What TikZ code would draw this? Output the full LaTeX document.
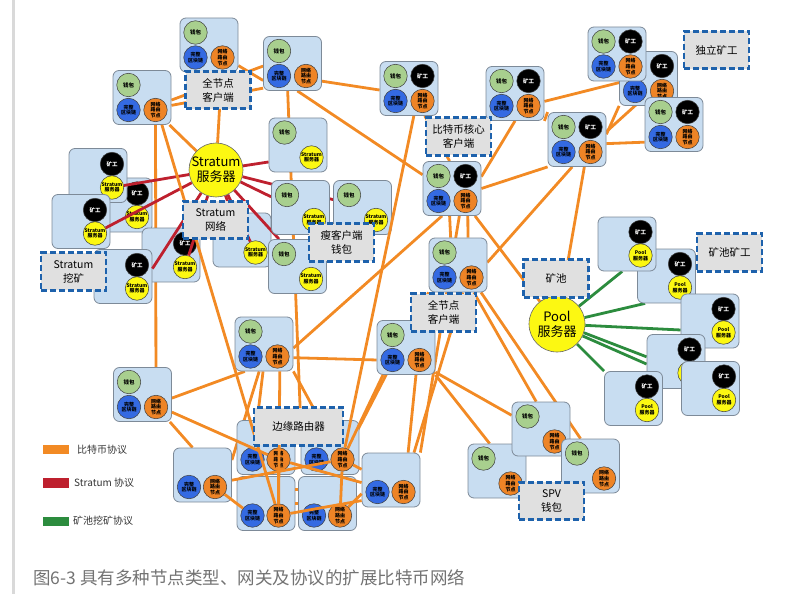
\documentclass[tikz,border=0pt]{standalone}
\usepackage{fontspec}
\setmainfont{Noto Sans CJK SC}

\definecolor{caixaazul}{RGB}{200,221,241}
\definecolor{bordacaixa}{RGB}{125,138,152}
\definecolor{verdec}{RGB}{168,207,142}
\definecolor{azulb}{RGB}{52,106,226}
\definecolor{laranja}{RGB}{238,132,38}
\definecolor{amarelo}{RGB}{252,248,18}
\definecolor{linhalar}{RGB}{242,138,36}
\definecolor{linhaverm}{RGB}{190,32,46}
\definecolor{linhaverde}{RGB}{44,140,62}
\definecolor{tracejado}{RGB}{30,98,172}
\definecolor{cinzarot}{RGB}{224,224,224}

\pgfdeclarelayer{linhas}
\pgfdeclarelayer{tras}
\pgfdeclarelayer{stratum}
\pgfsetlayers{linhas,tras,stratum,main}

\tikzset{
  caixa/.style={draw=bordacaixa, fill=caixaazul, rounded corners=6pt, line width=0.8pt,
    minimum width=58pt, minimum height=54pt, inner sep=0pt},
  bola/.style={circle, draw=black!75, line width=0.5pt, minimum size=23.5pt, inner sep=0pt,
    align=center, font=\fontsize{5}{5.6}\selectfont\bfseries},
  miuda/.style={font=\fontsize{5.5}{6}\selectfont\bfseries},
  servidor/.style={circle, draw=black!60, line width=0.6pt, fill=amarelo, minimum size=54pt, inner sep=0pt},
  rotulo/.style={draw=tracejado, fill=cinzarot, line width=2.6pt, dash pattern=on 6pt off 3pt,
    minimum width=65pt, minimum height=37.5pt, inner sep=0pt, align=center,
    font=\fontsize{10.5}{14}\selectfont},
  btc/.style={draw=linhalar, line width=2.8pt},
  strat/.style={draw=linhaverm, line width=2.8pt},
  pool/.style={draw=linhaverde, line width=2.8pt},
  barra/.style={minimum width=26pt, minimum height=9.5pt, inner sep=0pt},
  legtxt/.style={anchor=west, inner sep=0pt, text=black!80, font=\fontsize{10}{12}\selectfont}
}

% no completo: carteira, blockchain, roteamento
\newcommand{\noCheio}[3]{%
  \node[caixa] (#1) at (#2,#3) {};
  \node[bola, fill=verdec, miuda] (#1-c) at (#2-13.5,#3-12.5) {钱包};
  \node[bola, fill=azulb] (#1-b) at (#2-13.5,#3+12.5) {完整\\区块链};
  \node[bola, fill=laranja] (#1-r) at (#2+13.5,#3+12.5) {网络\\路由\\节点};
}
% no completo com mineiro
\newcommand{\noMinerador}[3]{%
  \noCheio{#1}{#2}{#3}
  \node[bola, fill=black, text=white, miuda] (#1-m) at (#2+13.5,#3-12.5) {矿工};
}
% carteira leve (stratum)
\newcommand{\noLeve}[3]{%
  \node[caixa] (#1) at (#2,#3) {};
  \node[bola, fill=verdec, miuda] (#1-c) at (#2-13.5,#3-12.5) {钱包};
  \node[bola, fill=amarelo] (#1-s) at (#2+13.5,#3+12.5) {Stratum\\服务器};
}
% mineiro stratum
\newcommand{\noMineiro}[3]{%
  \node[caixa] (#1) at (#2,#3) {};
  \node[bola, fill=black, text=white, miuda] (#1-m) at (#2+14,#3-11.5) {矿工};
  \node[bola, fill=amarelo] (#1-s) at (#2+14,#3+12) {Stratum\\服务器};
}
% mineiro do pool
\newcommand{\noPool}[3]{%
  \node[caixa] (#1) at (#2,#3) {};
  \node[bola, fill=black, text=white, miuda] (#1-m) at (#2+13.5,#3-12) {矿工};
  \node[bola, fill=amarelo] (#1-s) at (#2+13.5,#3+11.5) {Pool\\服务器};
}
% carteira spv
\newcommand{\noSpv}[3]{%
  \node[caixa] (#1) at (#2,#3) {};
  \node[bola, fill=verdec, miuda] (#1-c) at (#2-13.5,#3-12.5) {钱包};
  \node[bola, fill=laranja] (#1-r) at (#2+13.5,#3+12.5) {网络\\路由\\节点};
}
% roteador de borda
\newcommand{\noBorda}[3]{%
  \node[caixa] (#1) at (#2,#3) {};
  \node[bola, fill=azulb] (#1-b) at (#2-13.5,#3+12) {完整\\区块链};
  \node[bola, fill=laranja] (#1-r) at (#2+12.5,#3+12) {网络\\路由\\节点};
}

\begin{document}
\begin{tikzpicture}[x=1pt,y=-1pt]
  \useasboundingbox (0,0) rectangle (809,599);
  \draw[line width=3pt, black!15] (13.5,0) -- (13.5,594); % barra lateral

  % mineiros stratum (atras das linhas vermelhas)
  \begin{pgfonlayer}{tras}
    \noMineiro{mS2}{123}{205}
    \noMineiro{mS4}{171}{255}
    \noMineiro{mS1}{98}{175.5}
    \noMineiro{mS3}{81}{221.5}
    \noMineiro{mS5}{123}{276.5}
    % carteira leve escondida pelo rotulo
    \node[caixa] (w5) at (242,240) {};
    \node[bola, fill=amarelo] (w5-s) at (255.5,252.5) {Stratum\\服务器};
  \end{pgfonlayer}

  % carteiras leves
  \noLeve{w1}{298}{145}
  \noLeve{w2}{300.5}{207.5}
  \noLeve{w3}{362.5}{207.5}
  \noLeve{w4}{297.5}{266.5}

  % servidor stratum
  \node[servidor] (S) at (216,170) {};
  \node[align=center, font=\fontsize{13}{15}\selectfont] (S-txt) at (S) {Stratum\\服务器};

  % nos completos
  \noCheio{A}{209}{45}
  \noCheio{B}{292.5}{63.5}
  \noCheio{C}{142}{97.5}
  \noMinerador{D}{409}{88.5}
  \noMinerador{E}{515}{93.5}
  \noMinerador{F}{452}{188.5}
  \noMinerador{G}{577}{139.5}
  % I fica atras de H (carteira escondida)
  \node[caixa] (I) at (648.5,78.5) {};
  \node[bola, fill=black, text=white, miuda] (I-m) at (662,66) {矿工};
  \node[bola, fill=azulb] (I-b) at (635,91) {完整\\区块链};
  \node[bola, fill=laranja] (I-r) at (662,91) {网络\\路由\\节点};
  \noMinerador{H}{617}{54}
  \noMinerador{J}{674}{124.5}
  \noCheio{K}{458}{265}
  \noCheio{L}{406}{347.5}
  \noCheio{M}{264}{344}
  \noCheio{N}{142.5}{394.5}

  % roteadores de borda
  \noBorda{R1}{266}{447.5}
  \noBorda{R2}{330}{447.5}
  \noBorda{R3}{202.5}{475}
  \noBorda{R4}{266}{503.5}
  \noBorda{R5}{327.5}{503.5}
  \noBorda{R6}{391}{480}

  % linhas por cima dos roteadores
  \draw[btc] (C.-54) -- (R4-r);
  \draw[btc] (M.-60) -- (R4-r);
  \draw[btc] (N.-31) -- (R1-r);
  \draw[btc] (D.-80) -- (R2-r);
  \draw[btc] (L.-130) -- (R2-r);
  \draw[btc] (R1-r) -- (R4-r);
  \draw[btc] (R2-r) -- (R5-r);
  \draw[btc] (R1-r) -- (R6.-175);
  \draw[btc] (R2-r) -- (R6.160);
  \draw[btc] (R3.-10) -- (R2-r);
  \draw[btc] (R3-r) -- (R4-b);
  \draw[btc] (R4-r) -- (R6.-145);
  \draw[btc] (R5-r) -- (R6.-155);
  \draw[btc] (R4.25) -- (R5.155);
  \draw[btc] (R4.0) -- (R5.180);

  % carteiras spv
  \noSpv{V2}{497}{471}
  \noSpv{V1}{541}{429}
  \noSpv{V3}{590.5}{466}

  % pool
  \node[servidor, minimum size=56pt] (P) at (557,324) {};
  \node[align=center, font=\fontsize{13}{15}\selectfont] (P-txt) at (P) {Pool\\服务器};
  \noPool{pm2}{666.5}{276}
  \noPool{pm1}{627}{244}
  \noPool{pm3}{710}{321}
  \noPool{pm4}{676}{361.5}
  \noPool{pm5}{633.5}{398.5}
  \noPool{pm6}{710.5}{388.5}

  % rotulos
  \node[rotulo] (rFull1) at (218,90) {全节点\\客户端};
  \node[rotulo] (rSnet) at (215.5,220) {Stratum\\网络};
  \node[rotulo] (rThin) at (341.5,242.5) {瘦客户端\\钱包};
  \node[rotulo] (rSmin) at (73.5,271.5) {Stratum\\挖矿};
  \node[rotulo] (rCore) at (458.5,136.5) {比特币核心\\客户端};
  \node[rotulo] (rSolo) at (716.5,50) {独立矿工};
  \node[rotulo] (rPoolM) at (729.5,252.5) {矿池矿工};
  \node[rotulo] (rPool) at (556,278.5) {矿池};
  \node[rotulo] (rFull2) at (443.5,312.5) {全节点\\客户端};
  \node[rotulo, minimum width=89pt] (rEdge) at (298.5,426.5) {边缘路由器};
  \node[rotulo] (rSpv) at (551.5,501) {SPV\\钱包};

  % legenda
  \node[barra, fill=linhalar] (legBtc) at (56,449.5) {};
  \node[legtxt] (txtBtc) at (77,450) {比特币协议};
  \node[barra, fill=linhaverm] (legStr) at (56,483) {};
  \node[legtxt] (txtStr) at (74,483) {Stratum 协议};
  \node[barra, fill=linhaverde] (legPool) at (56,521.5) {};
  \node[legtxt] (txtPool) at (73,521) {矿池挖矿协议};
  \node[anchor=west, inner sep=0pt, text=black!55, font=\fontsize{17.5}{20}\selectfont] (titulo) at (33,578)
    {图6-3 具有多种节点类型、网关及协议的扩展比特币网络};

  % linhas do protocolo bitcoin e do pool (fundo)
  \begin{pgfonlayer}{linhas}
    \draw[btc] (A.-35) -- (B.210);
    \draw[btc] (C.-5) -- (B.185);
    \draw[btc] (C.-15) -- (B.220);
    \draw[btc] (A-r) -- (S);
    \draw[btc] (C.-45) -- (S);
    \draw[btc] (C-r) -- (N-r);
    \draw[btc] (B.-100) -- (R2.north west);
    \draw[btc] (B.-31) -- (D.183);
    \draw[btc] (B.-80) -- (F.155);
    \draw[btc] (D.-60) -- (F.95);
    \draw[btc] (E.south) -- (F.22);
    \draw[btc] (E.south east) -- (G.north west);
    \draw[btc] (E.-15) -- (I.188);
    \draw[btc] (G.10) -- (I.south west);
    \draw[btc] (G.15) -- (J.north west);
    \draw[btc] (G.-8) -- (J.211);
    \draw[btc] (F.east) -- (G.south west);
    \draw[btc] (F.-60) -- (K.70);
    \draw[btc] (F.-95) -- (K.105);
    \draw[btc] (F.-110) -- (M.-8);
    \draw[btc] (F.-50) -- (P);
    \draw[btc] (F.-75) -- (R6.43);
    \draw[btc] (G.-75) -- (P);
    \draw[btc] (K.5) -- (G.-100);
    \draw[btc] (K.-60) -- (V1.100);
    \draw[btc] (K.-50) -- (V3.110);
    \draw[btc] (K.-80) -- (R6.50);
    \draw[btc] (K.south west) -- (R2-r);
    \draw[btc] (L.-40) -- (V1.155);
    \draw[btc] (L.south east) -- (V2.105);
    \draw[btc] (L.-70) -- (R6.58);
    \draw[btc] (M.-25) -- (L.203);
    \draw[btc] (N.-7) -- (M.-125);
    \draw[btc] (N.-45) -- (R3.110);
    \draw[btc] (M.-92) -- (R1-b);
    \draw[btc] (M.south east) -- (R2.110);
    \draw[btc] (M.-100) -- (R3.27);
    % pool
    \draw[pool] (P) -- (pm1.-100);
    \draw[pool] (P) -- (pm2.-128);
    \draw[pool] (P) -- (pm3.-163);
    \draw[pool] (P.-18) -- (pm4.171);
    \draw[pool] (P.-25) -- (pm4.-175);
    \draw[pool] (P) -- (pm5.north west);
  \end{pgfonlayer}

  % linhas stratum
  \begin{pgfonlayer}{stratum}
    \draw[strat] (S) -- (mS1-s);
    \draw[strat] (S) -- (mS3-s);
    \draw[strat] (S) -- (mS4-s);
    \draw[strat] (S) -- (mS5.15);
    \draw[strat] (S) -- (w5);
    \draw[strat] (S) -- (w5-s);
    \draw[strat] (S) -- (w1.-150);
    \draw[strat] (S) -- (w2.160);
    \draw[strat] (S) -- (w3.165);
    \draw[strat] (S) -- (w4.124);
  \end{pgfonlayer}
\end{tikzpicture}
\end{document}
